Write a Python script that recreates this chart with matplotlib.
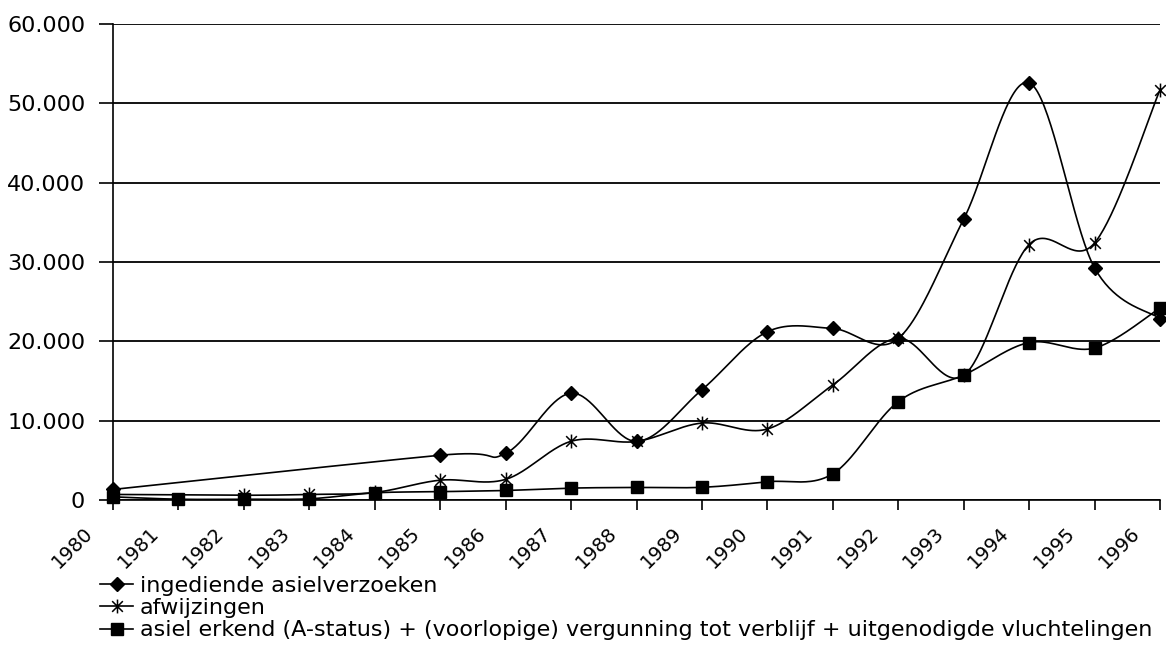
import numpy as np
import matplotlib.pyplot as plt
import matplotlib.transforms as mtransforms
from matplotlib.path import Path

plt.rcParams['font.family'] = ['DejaVu Sans']

years = [str(y) for y in range(1980, 1997)]
nan = np.nan
ingediend = [1330, nan, nan, nan, nan, 5640, 5870, 13460, 7390, 13900,
             21210, 21620, 20350, 35400, 52580, 29260, 22860]
afwijzingen = [700, nan, 600, 700, 950, 2500, 2600, 7400, 7380, 9700,
               8950, 14500, 20400, 15700, 32200, 32400, 51700]
erkend = [400, 100, 100, 150, 900, 1050, 1200, 1500, 1580, 1600,
          2300, 3300, 12400, 15750, 19850, 19150, 24200]

labels = ['ingediende asielverzoeken', 'afwijzingen',
          'asiel erkend (A-status) + (voorlopige) vergunning tot verblijf + uitgenodigde vluchtelingen']


def smooth(xs, ys, n=40):
    # excel-like smoothed line (bezier through the points, gaps connected)
    pts = np.array([(x, y) for x, y in zip(xs, ys) if not np.isnan(y)], dtype=float)
    out = []
    for i in range(len(pts) - 1):
        p0 = pts[i - 1] if i > 0 else pts[i]
        p1 = pts[i]
        p2 = pts[i + 1]
        p3 = pts[i + 2] if i + 2 < len(pts) else pts[i + 1]
        c1 = p1 + (p2 - p0) / 6.0
        c2 = p2 - (p3 - p1) / 6.0
        t = np.linspace(0, 1, n)[:, None]
        seg = ((1 - t) ** 3) * p1 + 3 * ((1 - t) ** 2) * t * c1 + 3 * (1 - t) * t ** 2 * c2 + t ** 3 * p2
        out.append(seg if i == 0 else seg[1:])
    out = np.vstack(out)
    return out[:, 0], out[:, 1]


star = Path([(-1, -1), (1, 1), (-1, 1), (1, -1), (0, -1.3), (0, 1.3)],
            [Path.MOVETO, Path.LINETO, Path.MOVETO, Path.LINETO, Path.MOVETO, Path.LINETO])

fig = plt.figure(figsize=(11.66, 6.53), dpi=100)
ax = fig.add_axes([113 / 1166, 1 - 500 / 653, (1160 - 113) / 1166, (500 - 24) / 653])

x = np.arange(len(years))
styles = [
    dict(marker='D', ms=7, mfc='black', mec='black'),
    dict(marker=star, ms=10, mfc='none', mec='black', mew=1.1),
    dict(marker='s', ms=9, mfc='black', mec='black'),
]
handles = []
for ys, st, lab in zip([ingediend, afwijzingen, erkend], styles, labels):
    sx, sy = smooth(x, ys)
    ax.plot(sx, sy, color='black', lw=1.2, clip_on=False, zorder=3)
    ax.plot(x, ys, ls='none', clip_on=False, zorder=4, **st)
    h, = ax.plot([], [], color='black', lw=1.2, **st)
    h.set_label(lab)
    handles.append(h)

ax.set_xlim(0, 16)
ax.set_ylim(0, 60000)
ax.set_yticks(np.arange(0, 60001, 10000))
ax.set_yticklabels(['0' if v == 0 else f'{v:,}'.replace(',', '.') for v in range(0, 60001, 10000)])
ax.set_xticks(x)
ax.set_xticklabels(years, rotation=45, ha='right', fontsize=14)

ax.tick_params(axis='y', labelsize=16, length=10, width=1.2, pad=10, direction='out')
ax.tick_params(axis='x', length=7, width=1.2, pad=10, direction='out')
# labels sit left of their ticks, like the excel original
shift = mtransforms.ScaledTranslation(-16 / 100, 0, fig.dpi_scale_trans)
for lbl in ax.xaxis.get_majorticklabels():
    lbl.set_transform(lbl.get_transform() + shift)

ax.grid(axis='y', color='black', lw=1.3)
ax.set_axisbelow(True)
for s in ['top', 'right']:
    ax.spines[s].set_visible(False)
for s in ['left', 'bottom']:
    ax.spines[s].set_linewidth(1.2)

fig.legend(handles=handles, loc='upper left', bbox_to_anchor=(100 / 1166, 1 - 576 / 653),
           frameon=False, fontsize=16, handlelength=1.5, handletextpad=0.3,
           labelspacing=0.1, borderpad=0, borderaxespad=0)

fig.savefig('out.png', dpi=100, facecolor='white')
